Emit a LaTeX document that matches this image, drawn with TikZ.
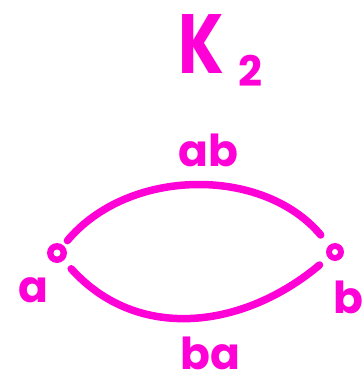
\documentclass[tikz,border=0pt]{standalone}
\usepackage{fontspec}
\setmainfont{Poppins}
\definecolor{PenClr}{rgb}{1,0,0.84}

\begin{document}
\begin{tikzpicture}[x=1pt,y=-1pt,
  pen/.style={draw=PenClr,line width=7.5pt,line cap=round},
  vertex/.style={circle,minimum size=12pt,inner sep=0pt},
  lbl/.style={text=PenClr,font=\bfseries\fontsize{44}{44}\selectfont,inner sep=0pt}]
\useasboundingbox (0,0) rectangle (364,386);

% title
\node[text=PenClr,font=\bfseries\fontsize{84}{84}\selectfont,inner sep=0pt,
  xscale=0.78,transform shape] (title) at (201,44) {K};
\node[lbl,font=\bfseries\fontsize{42}{42}\selectfont] (sub) at (250,71) {2};

% vertices
\node[vertex] (va) at (57,253) {};
\node[vertex] (vb) at (335,252) {};
\fill[PenClr] (va.center) circle [radius=10pt];
\fill[white] (va.center) circle [radius=3.5pt];
\fill[PenClr] (vb.center) circle [radius=9pt];
\fill[white] (vb.center) circle [radius=3pt];
\node[lbl] (la) at (33,290) {a};
\node[lbl] (lb) at (348,297) {b};

% edges
\draw[pen,shorten <=10pt,shorten >=16pt] (va) to[out=50,in=130] (vb);
\draw[pen,shorten <=15pt,shorten >=14pt] (va) to[out=-48,in=-140,looseness=1.08] (vb);
\node[lbl] (eab) at (208,150) {ab};
\node[lbl] (eba) at (210,353) {ba};

\end{tikzpicture}
\end{document}
